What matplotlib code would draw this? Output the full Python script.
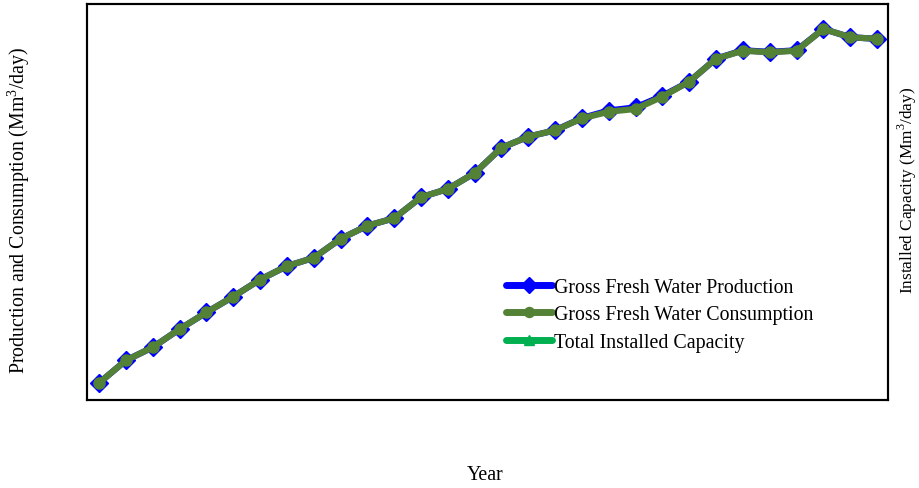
import matplotlib
matplotlib.use("Agg")
import matplotlib.pyplot as plt

plt.rcParams['font.family'] = ['Liberation Serif', 'DejaVu Serif']
plt.rcParams['mathtext.fontset'] = 'custom'
plt.rcParams['mathtext.rm'] = 'Liberation Serif'

years = list(range(1990, 2020))
production = [0.43, 1.00, 1.33, 1.79, 2.21, 2.61, 3.04, 3.38, 3.59, 4.07,
              4.40, 4.59, 5.12, 5.33, 5.73, 6.37, 6.65, 6.81, 7.12, 7.31,
              7.39, 7.68, 8.04, 8.62, 8.83, 8.79, 8.83, 9.37, 9.16, 9.12]
consumption = [0.43, 1.00, 1.33, 1.79, 2.21, 2.61, 3.04, 3.38, 3.59, 4.07,
               4.40, 4.59, 5.12, 5.33, 5.73, 6.37, 6.65, 6.81, 7.11, 7.28,
               7.35, 7.66, 8.04, 8.62, 8.82, 8.78, 8.82, 9.37, 9.16, 9.12]
capacity_years = []
capacity = []

fig = plt.figure(figsize=(9.19, 4.89), dpi=100)
ax = fig.add_axes([0.0947, 0.18, 0.8716, 0.8098])

blue = '#0000FF'
green = '#538135'
bright = '#00B050'

l1, = ax.plot(years, production, color=blue, lw=4.5, marker='D', ms=9,
              markeredgecolor=blue, solid_capstyle='round',
              label='Gross Fresh Water Production', zorder=3)
l2, = ax.plot(years, consumption, color=green, lw=4.5, marker='o', ms=8,
              markeredgecolor=green, solid_capstyle='round',
              label='Gross Fresh Water Consumption', zorder=4)

ax2 = ax.twinx()
l3, = ax2.plot(capacity_years, capacity, color=bright, lw=4.5, marker='^', ms=8,
               solid_capstyle='round', label='Total Installed Capacity')

ax.set_xlim(years[0] - 0.45, years[-1] + 0.41)
ax.set_ylim(0, 10)
ax2.set_ylim(0, 10)

for a in (ax, ax2):
    a.set_xticks([])
    a.set_yticks([])
    for s in a.spines.values():
        s.set_linewidth(1.5)
        s.set_color('black')

fs = 14.3
fig.text(0.528, 0.028, 'Year', ha='center', va='center', fontsize=fs)
fig.text(0.02, 0.57, 'Production and Consumption (Mm$^{3}$/day)', rotation=90,
         ha='center', va='center', fontsize=fs)
fig.text(0.9875, 0.6115, 'Installed Capacity (Mm$^{3}$/day)', rotation=90,
         ha='center', va='center', fontsize=12.4)

leg = ax.legend(handles=[l1, l2, l3], loc='upper left',
                bbox_to_anchor=(0.5506, 0.4295), bbox_transform=fig.transFigure,
                frameon=False, fontsize=fs, handlelength=2.3, handletextpad=0.1,
                labelspacing=0.42, markerscale=0.9, borderpad=0, borderaxespad=0)
for h in leg.get_lines():
    h.set_linewidth(5)
    h.set_solid_capstyle('round')

fig.savefig('out.png', dpi=100)
